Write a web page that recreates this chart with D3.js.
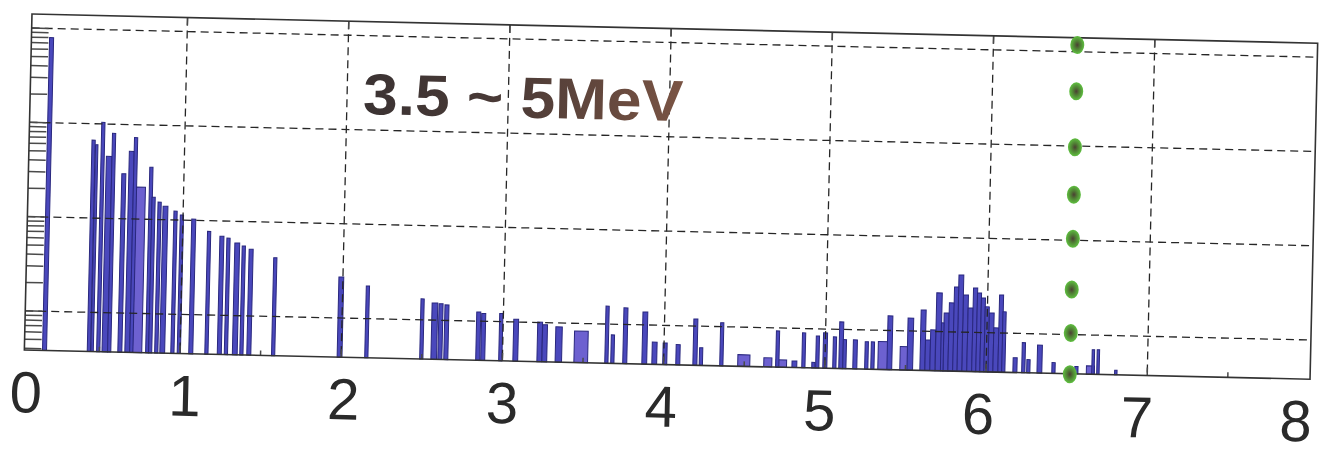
<!DOCTYPE html>
<html>
<head>
<meta charset="utf-8">
<script src="https://cdn.jsdelivr.net/npm/d3@7"></script>
<style>
  html, body { margin: 0; padding: 0; background: #fff; }
  svg { display: block; }
</style>
</head>
<body>
<svg id="chart" width="1323" height="454"></svg>
<script>
// ---- spectrum: bin centre (MeV), bin width (MeV), counts ----
const binCenters = [
  0.160, 0.435, 0.455, 0.493, 0.534, 0.561, 0.627, 0.673, 0.698, 0.734,
  0.797, 0.815, 0.853, 0.890, 0.953, 0.993, 1.067, 1.164, 1.244, 1.285,
  1.340, 1.381, 1.427, 1.578,
  1.990, 2.156, 2.497, 2.574, 2.612, 2.649, 2.847, 2.878, 2.987, 3.080,
  3.229, 3.260, 3.347, 3.486, 3.645, 3.682, 3.759, 3.880, 3.942, 4.007,
  4.088, 4.194, 4.231, 4.358, 4.497, 4.646, 4.705, 4.730, 4.811, 4.867,
  4.929, 4.953, 5.000, 5.059, 5.099, 5.121, 5.186, 5.257, 5.295, 5.366,
  5.400, 5.490, 5.527,
  5.605, 5.636, 5.667, 5.701, 5.725, 5.748, 5.779, 5.806, 5.834, 5.865,
  5.896, 5.924, 5.949, 5.974, 5.999, 6.027, 6.058, 6.086, 6.107,
  6.179, 6.231, 6.262, 6.331, 6.418, 6.560, 6.647, 6.663, 6.694, 6.805
];
const binWidths = [
  0.025, 0.020, 0.015, 0.020, 0.035, 0.020, 0.025, 0.030, 0.020, 0.058,
  0.020, 0.020, 0.020, 0.030, 0.020, 0.020, 0.025, 0.020, 0.025, 0.020,
  0.030, 0.020, 0.025, 0.020,
  0.030, 0.020, 0.020, 0.035, 0.025, 0.025, 0.025, 0.025, 0.020, 0.030,
  0.030, 0.030, 0.040, 0.085, 0.020, 0.020, 0.025, 0.030, 0.030, 0.025,
  0.025, 0.025, 0.020, 0.020, 0.075, 0.050, 0.020, 0.065, 0.030, 0.020,
  0.020, 0.020, 0.025, 0.020, 0.025, 0.020, 0.025, 0.020, 0.020, 0.075,
  0.030, 0.050, 0.035,
  0.031, 0.031, 0.031, 0.034, 0.016, 0.031, 0.031, 0.026, 0.030, 0.031,
  0.031, 0.026, 0.025, 0.025, 0.025, 0.031, 0.031, 0.025, 0.020,
  0.025, 0.020, 0.020, 0.030, 0.020, 0.020, 0.050, 0.015, 0.015, 0.015
];
const counts = [
  800, 67, 60, 104, 45.5, 80, 30, 52, 73, 21.8,
  35.7, 17.2, 15.3, 13.9, 12.4, 11.3, 10.3, 7.7, 6.9, 6.6,
  5.9, 5.5, 5.1, 4.2,
  2.72, 2.22, 1.67, 1.52, 1.50, 1.46, 1.25, 1.21, 1.22, 1.07,
  1.01, 0.95, 0.91, 0.83, 1.55, 0.77, 1.50, 1.37, 0.66, 0.65,
  0.63, 1.19, 0.59, 1.10, 0.51, 0.48, 0.93, 0.46, 0.45, 0.90,
  0.44, 0.84, 0.91, 0.83, 1.20, 0.78, 0.78, 0.75, 0.75, 0.76,
  1.43, 0.68, 1.37,
  1.68, 0.81, 1.04, 2.57, 1.24, 1.58, 2.03, 3.00, 4.03, 2.48,
  1.81, 2.96, 2.62, 2.33, 1.88, 1.62, 1.13, 2.53, 1.68,
  0.55, 0.80, 0.53, 0.76, 0.50, 0.46, 0.47, 0.70, 0.70, 0.43
];

// ---- axis ticks ----
const xTickValues = [0, 1, 2, 3, 4, 5, 6, 7, 8];
const xHalfTicks = [0.5, 1.5, 2.5, 3.5, 4.5, 5.5, 6.5, 7.5];
const yGridValues = [1, 10, 100, 1000];

// ---- energy cut marker (dotted column) ----
const cutEnergy = 6.52;
const cutDotLevels = [1180, 380, 97, 30.5, 10.4, 3.0, 1.04, 0.38];

const titleText = "3.5 ~ 5MeV";

// ---- layout ----
const svg = d3.select("#chart");
const plot = { left: 28, top: 28.6, right: 1314, bottom: 364.7 };

const x = d3.scaleLinear().domain([0.035, 8.01]).range([plot.left, plot.right]);
const y = d3.scaleLog().domain([0.384, 1407]).range([plot.bottom, plot.top]);
// tick labels are set a little tighter than the plot box
const xLabel = d3.scaleLinear().domain([0, 8]).range([30, 1300]);

const defs = svg.append("defs");
const tg = defs.append("linearGradient").attr("id", "titleGrad")
  .attr("x1", "0%").attr("x2", "100%").attr("y1", "0%").attr("y2", "0%");
tg.append("stop").attr("offset", "0%").attr("stop-color", "#3b3333");
tg.append("stop").attr("offset", "45%").attr("stop-color", "#4a3a36");
tg.append("stop").attr("offset", "100%").attr("stop-color", "#7a5444");

const dg = defs.append("radialGradient").attr("id", "dotGrad");
dg.append("stop").attr("offset", "0%").attr("stop-color", "#4b3f33");
dg.append("stop").attr("offset", "40%").attr("stop-color", "#4f7a34");
dg.append("stop").attr("offset", "100%").attr("stop-color", "#5fc040");

// whole figure sits slightly tilted
const g = svg.append("g").attr("transform", "rotate(1.3 672 197)");

// ---- histogram bars (widest first so narrow spikes stay on top) ----
const bins = binCenters.map((c, i) => ({ c, w: binWidths[i], v: counts[i] }))
  .sort((a, b) => b.w - a.w);

g.append("g").selectAll("rect").data(bins).join("rect")
  .attr("x", d => x(d.c - d.w / 2))
  .attr("width", d => x(d.c + d.w / 2) - x(d.c - d.w / 2))
  .attr("y", d => y(d.v))
  .attr("height", d => plot.bottom - y(d.v))
  .attr("fill", d => d.w >= 0.05 ? "#6d61d0" : "#4a48bc")
  .attr("stroke", "#29277e")
  .attr("stroke-width", 1);

// ---- dashed grid ----
const grid = g.append("g")
  .attr("stroke", "#262626").attr("stroke-width", 1.3)
  .attr("stroke-dasharray", "8,5").attr("fill", "none");

grid.selectAll("line.v").data(xTickValues.filter(v => v > 0 && v < 8)).join("line")
  .attr("class", "v")
  .attr("x1", d => x(d)).attr("x2", d => x(d))
  .attr("y1", plot.top).attr("y2", plot.bottom);

grid.selectAll("line.h").data(yGridValues).join("line")
  .attr("class", "h")
  .attr("x1", plot.left).attr("x2", plot.right)
  .attr("y1", d => y(d)).attr("y2", d => y(d));

// ---- tick marks ----
const ticks = g.append("g").attr("stroke", "#4a4a4a").attr("stroke-width", 1.5);

// log ticks along the left edge
ticks.selectAll("line.ly").data(y.ticks()).join("line")
  .attr("class", "ly")
  .attr("x1", plot.left).attr("x2", plot.left + 17)
  .attr("y1", d => y(d)).attr("y2", d => y(d));

// integer ticks on top and bottom edges
const inner = xTickValues.filter(v => v > 0 && v < 8);
ticks.selectAll("line.tb").data(inner).join("line")
  .attr("class", "tb")
  .attr("x1", d => x(d)).attr("x2", d => x(d))
  .attr("y1", plot.bottom).attr("y2", plot.bottom - 8);
ticks.selectAll("line.tt").data(inner).join("line")
  .attr("class", "tt")
  .attr("x1", d => x(d)).attr("x2", d => x(d))
  .attr("y1", plot.top).attr("y2", plot.top + 8);
ticks.selectAll("line.th").data(xHalfTicks).join("line")
  .attr("class", "th")
  .attr("x1", d => x(d)).attr("x2", d => x(d))
  .attr("y1", plot.bottom).attr("y2", plot.bottom - 5);

// ---- frame ----
g.append("rect")
  .attr("x", plot.left).attr("y", plot.top)
  .attr("width", plot.right - plot.left).attr("height", plot.bottom - plot.top)
  .attr("fill", "none").attr("stroke", "#333").attr("stroke-width", 1.6);

// ---- x tick labels ----
const xAxis = g.append("g")
  .attr("transform", `translate(0,${plot.bottom})`)
  .call(d3.axisBottom(xLabel).tickValues(xTickValues).tickSize(0).tickPadding(21)
    .tickFormat(d3.format("d")));
xAxis.select(".domain").remove();
xAxis.attr("font-family", "'Liberation Sans', Arial, sans-serif")
  .attr("font-size", 58);
xAxis.selectAll("text").attr("fill", "#2a2a2a");

// ---- energy cut: column of green dots ----
g.append("g").selectAll("ellipse").data(cutDotLevels).join("ellipse")
  .attr("cx", x(cutEnergy))
  .attr("cy", d => y(d))
  .attr("rx", 7).attr("ry", 9)
  .attr("fill", "url(#dotGrad)");

// ---- title ----
g.append("text")
  .attr("x", 361).attr("y", 121)
  .attr("font-family", "'Liberation Sans', Arial, sans-serif")
  .attr("font-weight", "bold")
  .attr("font-size", 58)
  .attr("textLength", 320)
  .attr("lengthAdjust", "spacingAndGlyphs")
  .attr("fill", "url(#titleGrad)")
  .text(titleText);
</script>
</body>
</html>
